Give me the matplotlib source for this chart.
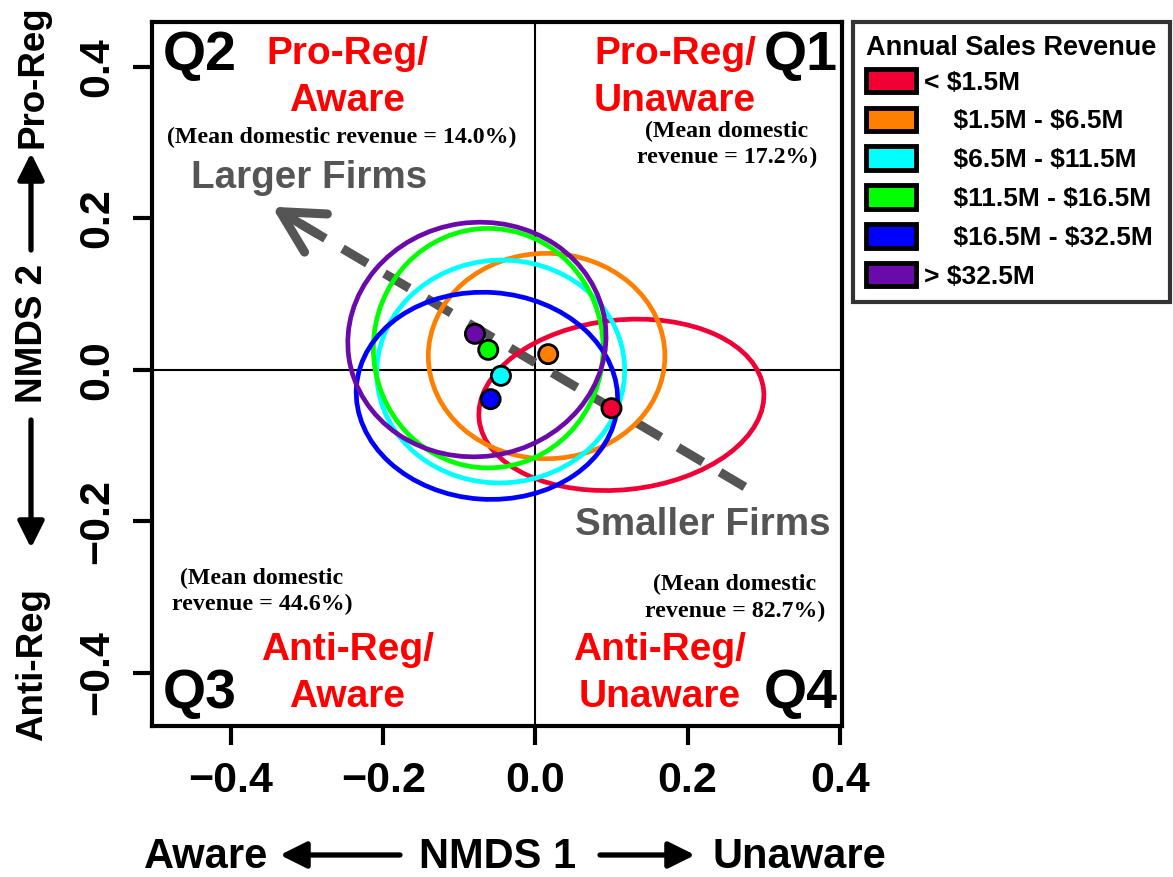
import matplotlib.pyplot as plt
from matplotlib.patches import Ellipse, Patch, FancyArrowPatch

# revenue classes and their colours
classes = ["< \\$1.5M", "    \\$1.5M - \\$6.5M", "    \\$6.5M - \\$11.5M",
           "    \\$11.5M - \\$16.5M", "    \\$16.5M - \\$32.5M", "> \\$32.5M"]
colors = ["#F00035", "#FF8000", "#00FFFF", "#00FF00", "#0000FF", "#6B0AAA"]

# group centroids on NMDS 1 / NMDS 2
cent_x = [0.100, 0.0168, -0.0453, -0.062, -0.0589, -0.0795]
cent_y = [-0.0506, 0.0207, -0.0079, 0.0264, -0.0387, 0.0475]

# dispersion ellipses: centre, full width / height, rotation (deg)
ell_x = [0.113, 0.0147, -0.0456, -0.062, -0.0637, -0.0769]
ell_y = [-0.0462, 0.0182, -0.0022, 0.0286, -0.0343, 0.040]
ell_w = [0.376, 0.311, 0.326, 0.302, 0.344, 0.340]
ell_h = [0.224, 0.271, 0.294, 0.316, 0.273, 0.309]
ell_angle = [6, 0, 3, 0, -4, 8]

ticks = [-0.4, -0.2, 0.0, 0.2, 0.4]
tick_labels = ["\u22120.4", "\u22120.2", "0.0", "0.2", "0.4"]

# size gradient arrow (tail at small firms, head at large firms)
trend_tail = (0.2753, -0.1545)
trend_head = (-0.3463, 0.2152)

SANS = "Liberation Sans"
SERIF = "Liberation Serif"
GRAY = "#555555"

fig = plt.figure(figsize=(11.73, 8.77), dpi=100)
ax = fig.add_axes([152 / 1173, 1 - 726 / 877, 690 / 1173, 704 / 877])
ax.set_xlim(-0.504, 0.403)
ax.set_ylim(-0.470, 0.459)

ax.axhline(0, color="black", lw=1.5, zorder=1)
ax.axvline(0, color="black", lw=1.5, zorder=1)

for i in range(len(classes)):
    ax.add_patch(Ellipse((ell_x[i], ell_y[i]), ell_w[i], ell_h[i],
                         angle=ell_angle[i], fill=False,
                         edgecolor=colors[i], lw=3.4, zorder=3))

# dashed trend line with open arrow head
ax.plot([trend_tail[0], trend_head[0] + 0.035], [trend_tail[1], trend_head[1] - 0.021],
        color=GRAY, lw=6.5, linestyle=(0, (3.2, 2.2)),
        dash_capstyle="butt", zorder=2)
ax.annotate("", xy=trend_head, xytext=(trend_head[0] + 0.06, trend_head[1] - 0.036),
            arrowprops=dict(arrowstyle="->,head_length=3.0,head_width=1.6",
                            color=GRAY, lw=6.5, shrinkA=0, shrinkB=0),
            zorder=2)

ax.scatter(cent_x, cent_y, s=190, c=colors, edgecolors="black",
           linewidths=2, zorder=5)

# quadrant numbers
qkw = dict(fontsize=40, fontweight="bold", family=SANS, va="baseline")
ax.text(-0.4895, 0.396, "Q2", ha="left", **qkw)
ax.text(0.3975, 0.396, "Q1", ha="right", **qkw)
ax.text(-0.4895, -0.446, "Q3", ha="left", **qkw)
ax.text(0.3975, -0.446, "Q4", ha="right", **qkw)

# quadrant names
rkw = dict(fontsize=28, fontweight="bold", family=SANS, color="#FF0000",
           ha="center", va="baseline")
ax.text(-0.2477, 0.404, "Pro-Reg/", **rkw)
ax.text(-0.2477, 0.342, "Aware", **rkw)
ax.text(0.1833, 0.404, "Pro-Reg/", **rkw)
ax.text(0.1833, 0.342, "Unaware", **rkw)
ax.text(-0.2477, -0.383, "Anti-Reg/", **rkw)
ax.text(-0.2477, -0.445, "Aware", **rkw)
ax.text(0.1636, -0.383, "Anti-Reg/", **rkw)
ax.text(0.1636, -0.445, "Unaware", **rkw)

# mean domestic revenue notes
mkw = dict(fontsize=17.2, fontweight="bold", family=SERIF, ha="center", va="baseline")
ax.text(-0.254, 0.2997, "(Mean domestic revenue = 14.0%)", **mkw)
ax.text(0.2516, 0.3076, "(Mean domestic", **mkw)
ax.text(0.2516, 0.2733, "revenue = 17.2%)", **mkw)
ax.text(-0.3594, -0.2825, "(Mean domestic", **mkw)
ax.text(-0.3594, -0.3168, "revenue = 44.6%)", **mkw)
ax.text(0.2622, -0.2904, "(Mean domestic", **mkw)
ax.text(0.2622, -0.3261, "revenue = 82.7%)", **mkw)

fkw = dict(fontsize=27.8, fontweight="bold", family=SANS, color=GRAY,
           ha="center", va="baseline")
ax.text(-0.2976, 0.2403, "Larger Firms", **fkw)
ax.text(0.2195, -0.2178, "Smaller Firms", **fkw)

# axes styling
for s in ax.spines.values():
    s.set_linewidth(3)
ax.set_xticks(ticks)
ax.set_xticklabels(tick_labels)
ax.set_yticks(ticks)
ax.set_yticklabels(tick_labels, rotation=90, va="center")
ax.tick_params(length=14, width=3, direction="out")
ax.tick_params(axis="x", pad=11)
ax.tick_params(axis="y", pad=11)
for lab in ax.get_xticklabels() + ax.get_yticklabels():
    lab.set_fontsize(31)
    lab.set_fontweight("bold")
    lab.set_family(SANS)

# axis titles with direction arrows (figure pixel coordinates)
W, H = 1173, 877
tkw = dict(fontsize=30, fontweight="bold", family=SANS, transform=fig.transFigure)
akw = dict(arrowstyle="-|>,head_length=0.8,head_width=0.4", color="black",
           lw=3.8, shrinkA=0, shrinkB=0, mutation_scale=20, transform=fig.transFigure)


def fig_arrow(p0, p1):
    fig.add_artist(FancyArrowPatch((p0[0] / W, 1 - p0[1] / H),
                                   (p1[0] / W, 1 - p1[1] / H), **akw))


fig.text(144 / W, 1 - 868 / H, "Aware", ha="left", va="baseline", **tkw)
fig.text(498 / W, 1 - 868 / H, "NMDS 1", ha="center", va="baseline", **tkw)
fig.text(886 / W, 1 - 868 / H, "Unaware", ha="right", va="baseline", **tkw)
fig_arrow((400, 855), (280, 855))
fig_arrow((600, 855), (695, 855))

ykw = dict(tkw, fontsize=26.5)
fig.text(33 / W, 1 - 77 / H, "Pro-Reg", ha="center", va="center", rotation=90, **ykw)
fig.text(33 / W, 1 - 333 / H, "NMDS 2", ha="center", va="center", rotation=90, **ykw)
fig.text(33 / W, 1 - 665 / H, "Anti-Reg", ha="center", va="center", rotation=90, **ykw)
fig_arrow((31, 250), (31, 153))
fig_arrow((31, 420), (31, 548))

# legend
handles = [Patch(facecolor=c, edgecolor="black", linewidth=3.5) for c in colors]
leg = fig.legend(handles, classes, title="Annual Sales Revenue",
                 loc="upper left", bbox_to_anchor=(853 / W, 1 - 22 / H),
                 borderaxespad=0, frameon=True, fancybox=False,
                 handlelength=1.9, handleheight=1.0, handletextpad=0.3,
                 labelspacing=0.49, borderpad=0.5, alignment="left",
                 prop=dict(family=SANS, weight="bold", size=19),
                 title_fontproperties=dict(family=SANS, weight="bold", size=19.5))
leg._legend_box.sep = 5.5
leg.get_frame().set_edgecolor("black")
leg.get_frame().set_linewidth(3)

fig.savefig("out.png", dpi=100)
